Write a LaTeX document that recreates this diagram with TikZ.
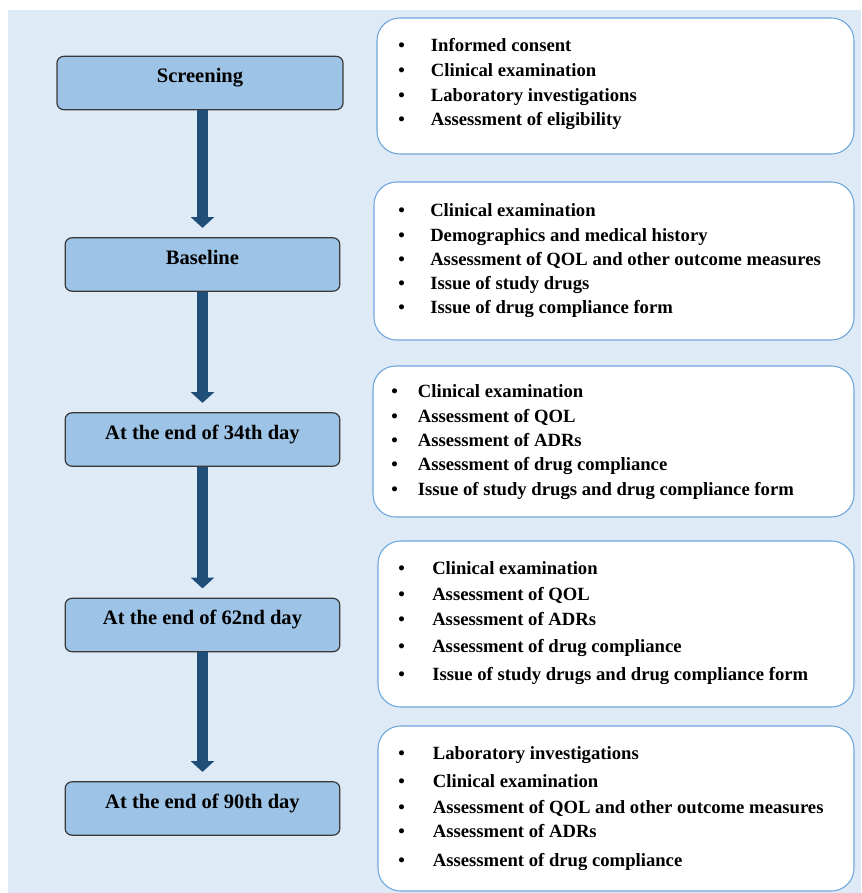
\documentclass[tikz,border=0pt]{standalone}
\usepackage{fontspec}
\setmainfont{Liberation Serif}
\usetikzlibrary{arrows.meta}

\definecolor{panelblue}{HTML}{DEEAF6}
\definecolor{stagefill}{HTML}{9DC3E6}
\definecolor{stageline}{HTML}{3A3A3A}
\definecolor{infoline}{HTML}{6FA6DC}
\definecolor{flowblue}{HTML}{1F4E79}

\newcommand{\entry}[2]{\makebox[#1][l]{\textbullet}#2}

\begin{document}
\begin{tikzpicture}[x=0.75pt, y=-0.75pt,
    stage/.style={rectangle, rounded corners=5pt, draw=stageline, line width=0.9pt, fill=stagefill,
        minimum width=206pt, minimum height=40pt, text depth=11pt, font=\bfseries\fontsize{15.4}{17}\selectfont},
    info/.style={rectangle, rounded corners=17pt, draw=infoline, line width=0.8pt, fill=white},
    item/.style={anchor=base west, inner sep=0pt, font=\bfseries\fontsize{14}{16}\selectfont},
    flow/.style={-{Triangle[width=17pt, length=8pt]}, line width=8pt, draw=flowblue}
]
    \useasboundingbox (0,0) rectangle (861,893);
    % Hintergrund
    \fill[panelblue] (8,10) rectangle (861,893);

    % Phasen
    \node[stage, minimum width=214.5pt] (screen) at (200,83) {Screening};
    \node[stage] (base) at (202.5,264.5) {Baseline};
    \node[stage] (day34) at (202.5,439.5) {At the end of 34th day};
    \node[stage] (day62) at (202.5,625) {At the end of 62nd day};
    \node[stage] (day90) at (202.5,808.5) {At the end of 90th day};

    % Pfeile
    \draw[flow] (base.north |- screen.south) -- ([yshift=7pt]base.north);
    \draw[flow] (base.south) -- ([yshift=7pt]day34.north);
    \draw[flow] (day34.south) -- ([yshift=7pt]day62.north);
    \draw[flow] (day62.south) -- ([yshift=7pt]day90.north);

    % Aufgaben
    \node[info, minimum width=357.75pt, minimum height=102pt] (tasks1) at (615.5,86) {};
    \node[info, minimum width=360pt, minimum height=118.5pt] (tasks2) at (614,261) {};
    \node[info, minimum width=360.75pt, minimum height=113.25pt] (tasks3) at (613.5,441.5) {};
    \node[info, minimum width=357pt, minimum height=124.5pt] (tasks4) at (616,624) {};
    \node[info, minimum width=357pt, minimum height=123.75pt] (tasks5) at (616,808.5) {};

    \foreach \yy/\txt [count=\k] in {51/Informed consent, 76/Clinical examination,
        101/Laboratory investigations, 125/Assessment of eligibility}
        \node[item] (scr-\k) at (398,\yy) {\entry{24.5pt}{\txt}};

    \foreach \yy/\txt [count=\k] in {216/Clinical examination, 241/Demographics and medical history,
        265/Assessment of QOL and other outcome measures, 289/Issue of study drugs,
        313/Issue of drug compliance form}
        \node[item] (bas-\k) at (398,\yy) {\entry{24pt}{\txt}};

    \foreach \yy/\txt [count=\k] in {397/Clinical examination, 422/Assessment of QOL,
        446/Assessment of ADRs, 470/Assessment of drug compliance,
        495/Issue of study drugs and drug compliance form}
        \node[item] (d34-\k) at (391,\yy) {\entry{20pt}{\txt}};

    \foreach \yy/\txt [count=\k] in {574/Clinical examination, 600/Assessment of QOL,
        625/Assessment of ADRs, 652/Assessment of drug compliance,
        680/Issue of study drugs and drug compliance form}
        \node[item] (d62-\k) at (398,\yy) {\entry{25.5pt}{\txt}};

    \foreach \yy/\txt [count=\k] in {759/Laboratory investigations, 787/Clinical examination,
        813/Assessment of QOL and other outcome measures, 837/Assessment of ADRs,
        866/Assessment of drug compliance}
        \node[item] (d90-\k) at (398,\yy) {\entry{26pt}{\txt}};
\end{tikzpicture}
\end{document}
